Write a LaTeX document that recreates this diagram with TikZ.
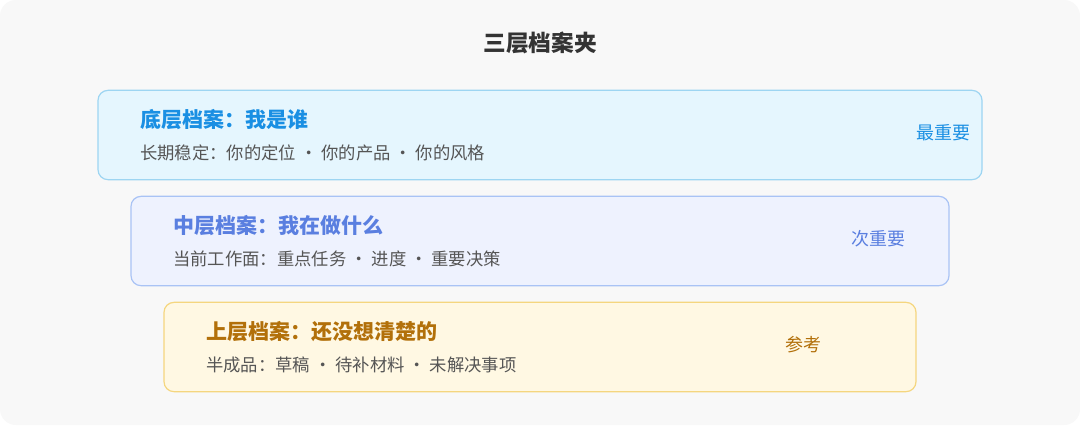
\documentclass[tikz,border=0pt]{standalone}
\usepackage{fontspec}
\setmainfont{Noto Sans CJK SC}
\usepackage{tikz}
\usetikzlibrary{positioning}
\usepackage{xcolor}

\definecolor{pageGray}{HTML}{F8F8F8}
\definecolor{headInk}{HTML}{333333}
\definecolor{subInk}{HTML}{555555}
\definecolor{baseFill}{HTML}{E5F6FE}
\definecolor{baseEdge}{HTML}{9DD5F2}
\definecolor{baseInk}{HTML}{1A8FE3}
\definecolor{midFill}{HTML}{EEF2FE}
\definecolor{midEdge}{HTML}{A9C3F5}
\definecolor{midInk}{HTML}{5A7FE0}
\definecolor{topFill}{HTML}{FFF8E3}
\definecolor{topEdge}{HTML}{F5D67F}
\definecolor{topInk}{HTML}{B2700A}

\tikzset{
  layer/.style={rounded corners=7.5pt, line width=0.9pt, inner sep=0pt, minimum height=67pt},
  heading/.style={font=\fontsize{17}{20}\selectfont\bfseries, text=headInk},
  layertitle/.style={font=\fontsize{15.75}{19}\selectfont\bfseries, anchor=west},
  layersub/.style={font=\fontsize{13}{16}\selectfont, text=subInk, anchor=west},
  layertag/.style={font=\fontsize{13.5}{16}\selectfont}
}

\begin{document}
\begin{tikzpicture}[x=0.75pt, y=-0.75pt, every node/.style={inner sep=0pt}]
\useasboundingbox (0,0) rectangle (1080,425);
\fill[white] (0,0) rectangle (1080,425);
\fill[pageGray, rounded corners=12pt] (0,0) rectangle (1080,425);

\node[heading] (heading) at (540,43) {三层档案夹};

% Layers
\foreach \n/\xl/\w/\yt/\head/\sub/\lx/\tag in {
    base/98/884/90/{底层档案：我是谁}/{长期稳定：你的定位 · 你的产品 · 你的风格}/943/{最重要},
    mid/131/818/196/{中层档案：我在做什么}/{当前工作面：重点任务 · 进度 · 重要决策}/878/{次重要},
    top/164/752/302/{上层档案：还没想清楚的}/{半成品：草稿 · 待补材料 · 未解决事项}/803/{参考}} {
    \node[layer, fill=\n Fill, draw=\n Edge, minimum width=\w*0.75pt] (\n box) at (\xl+\w/2, \yt+45) {};
    \node[layertitle, text=\n Ink] (\n title) at (\xl+42, \yt+30) {\head};
    \node[layersub] (\n sub) at (\xl+42, \yt+63) {\sub};
    \node[layertag, text=\n Ink] (\n tag) at (\lx, \yt+43) {\tag};
}
\end{tikzpicture}
\end{document}
